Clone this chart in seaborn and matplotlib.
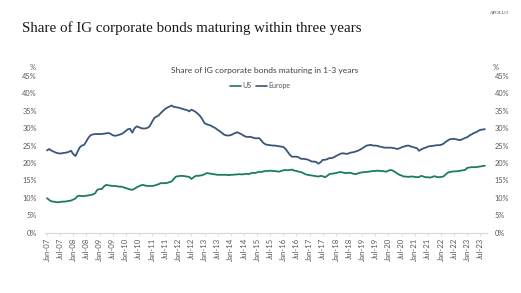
import numpy as np
import pandas as pd
import matplotlib
matplotlib.use("Agg")
import matplotlib.pyplot as plt
import matplotlib.dates as mdates
from matplotlib.lines import Line2D
import seaborn as sns

# ---- data (monthly, Jan-07 .. Sep-23) ----
start = "2007-01-01"
n_months = 201

europe = [
    23.6, 24.0, 23.6, 23.3, 23.0, 22.8, 22.7, 22.8, 22.9, 23.0, 23.2, 23.5,  # 2007
    22.6, 22.0, 23.2, 24.5, 25.0, 25.2, 26.2, 27.3, 28.0, 28.2, 28.3, 28.3,  # 2008
    28.3, 28.3, 28.4, 28.5, 28.6, 28.4, 28.0, 27.8, 27.9, 28.1, 28.3, 28.7,  # 2009
    29.2, 29.7, 29.8, 28.7, 29.9, 30.5, 30.3, 30.0, 29.9, 29.9, 30.1, 30.6,  # 2010
    31.8, 32.9, 33.3, 33.6, 34.3, 34.9, 35.5, 35.9, 36.2, 36.5, 36.1, 36.0,  # 2011
    35.9, 35.7, 35.5, 35.3, 35.2, 34.8, 35.3, 35.0, 34.6, 34.1, 33.4, 32.5,  # 2012
    31.4, 31.1, 30.9, 30.7, 30.3, 30.0, 29.5, 29.1, 28.6, 28.1, 27.9, 27.9,  # 2013
    28.0, 28.3, 28.6, 28.8, 28.5, 28.2, 27.8, 27.5, 27.5, 27.5, 27.3, 27.1,  # 2014
    27.1, 27.1, 26.4, 25.7, 25.3, 25.2, 25.1, 25.0, 25.0, 24.9, 24.8, 24.7,  # 2015
    24.6, 24.0, 23.2, 22.3, 21.8, 21.8, 21.8, 21.6, 21.2, 21.2, 21.1, 21.0,  # 2016
    20.7, 20.4, 20.4, 20.3, 19.8, 20.2, 20.9, 20.9, 21.1, 21.4, 21.4, 21.6,  # 2017
    22.0, 22.3, 22.6, 22.8, 22.7, 22.6, 22.8, 23.0, 23.1, 23.3, 23.5, 23.8,  # 2018
    24.2, 24.6, 25.0, 25.1, 25.2, 25.0, 25.0, 24.9, 24.7, 24.6, 24.4, 24.4,  # 2019
    24.4, 24.4, 24.3, 24.2, 24.0, 24.2, 24.5, 24.7, 24.9, 25.0, 24.8, 24.6,  # 2020
    24.4, 24.2, 23.5, 23.9, 24.2, 24.4, 24.7, 24.8, 24.9, 25.0, 25.1, 25.1,  # 2021
    25.2, 25.5, 26.0, 26.4, 26.8, 26.9, 26.9, 26.8, 26.6, 26.6, 26.9, 27.2,  # 2022
    27.4, 27.9, 28.2, 28.6, 28.8, 29.2, 29.5, 29.6, 29.7,                    # 2023
]

us = [
    9.9, 9.4, 9.0, 8.9, 8.8, 8.7, 8.8, 8.9, 8.9, 9.0, 9.1, 9.2,              # 2007
    9.5, 9.8, 10.5, 10.6, 10.5, 10.5, 10.6, 10.7, 10.8, 11.0, 11.3, 12.3,    # 2008
    12.5, 12.5, 13.2, 13.7, 13.6, 13.5, 13.4, 13.4, 13.3, 13.2, 13.2, 13.0,  # 2009
    12.8, 12.6, 12.4, 12.3, 12.6, 13.0, 13.3, 13.6, 13.7, 13.5, 13.4, 13.4,  # 2010
    13.4, 13.5, 13.7, 13.9, 14.2, 14.2, 14.2, 14.3, 14.5, 14.7, 15.5, 16.1,  # 2011
    16.2, 16.3, 16.3, 16.2, 16.1, 16.0, 15.4, 15.9, 16.3, 16.3, 16.4, 16.5,  # 2012
    16.8, 17.1, 17.0, 16.9, 16.8, 16.7, 16.6, 16.6, 16.6, 16.6, 16.6, 16.5,  # 2013
    16.6, 16.6, 16.7, 16.7, 16.8, 16.7, 16.8, 16.9, 16.8, 17.0, 17.2, 17.1,  # 2014
    17.3, 17.5, 17.4, 17.6, 17.7, 17.7, 17.8, 17.7, 17.7, 17.6, 17.5, 17.7,  # 2015
    17.9, 18.0, 17.9, 18.0, 18.1, 17.8, 17.7, 17.5, 17.4, 17.1, 16.8, 16.6,  # 2016
    16.5, 16.4, 16.3, 16.2, 16.1, 16.3, 16.2, 15.9, 16.3, 16.8, 16.9, 17.0,  # 2017
    17.1, 17.3, 17.4, 17.3, 17.1, 17.1, 17.2, 17.1, 16.9, 16.8, 17.0, 17.2,  # 2018
    17.3, 17.4, 17.4, 17.5, 17.6, 17.7, 17.7, 17.8, 17.7, 17.7, 17.6, 17.5,  # 2019
    17.8, 18.0, 17.8, 17.4, 17.0, 16.6, 16.4, 16.1, 16.1, 16.0, 16.1, 16.1,  # 2020
    16.0, 15.9, 16.0, 16.3, 16.1, 15.9, 15.9, 15.8, 16.0, 16.2, 16.0, 15.9,  # 2021
    16.0, 16.1, 16.6, 17.2, 17.4, 17.5, 17.6, 17.6, 17.7, 17.8, 17.9, 18.0,  # 2022
    18.6, 18.7, 18.8, 18.8, 18.8, 18.9, 19.0, 19.1, 19.2,                    # 2023
]

series_names = ["US", "Europe"]
series_colors = ["#1b7c5f", "#3b5678"]
y_ticks = [0, 5, 10, 15, 20, 25, 30, 35, 40, 45]

dates = pd.date_range(start, periods=n_months, freq="MS")
df = pd.concat([
    pd.DataFrame({"date": dates, "value": us, "series": "US"}),
    pd.DataFrame({"date": dates, "value": europe, "series": "Europe"}),
])

sns.set_theme(style="white")
plt.rcParams["font.family"] = ["Lato", "DejaVu Sans"]

fig = plt.figure(figsize=(5.21, 2.93), dpi=100)
ax = fig.add_axes([0.0864, 0.206, 0.8476, 0.535])

sns.lineplot(data=df, x="date", y="value", hue="series",
             palette=dict(zip(series_names, series_colors)),
             linewidth=1.3, ax=ax, legend=False)

ax.set_ylim(0, 45)
ax.set_xlim(dates[0] - pd.Timedelta(days=27), dates[-1] + pd.Timedelta(days=25))
ax.set_yticks(y_ticks)
ax.set_yticklabels([f"{t}%" for t in y_ticks])
ax.set_xlabel("")
ax.set_ylabel("")

ax.xaxis.set_major_locator(mdates.MonthLocator(bymonth=[1, 7]))
ax.xaxis.set_major_formatter(mdates.DateFormatter("%b-%y"))
ax.tick_params(axis="x", labelrotation=90, labelsize=5.6, colors="#595959",
               length=2.5, width=0.6, pad=1.5, bottom=True, color="#d9d9d9")
ax.tick_params(axis="y", labelsize=5.3, colors="#595959", length=0, pad=6)

for s in ["top", "right", "left"]:
    ax.spines[s].set_visible(False)
ax.spines["bottom"].set_color("#d9d9d9")
ax.spines["bottom"].set_linewidth(0.8)

ax2 = ax.twinx()
ax2.set_ylim(0, 45)
ax2.set_yticks(y_ticks)
ax2.set_yticklabels([f"{t}%" for t in y_ticks])
ax2.tick_params(axis="y", labelsize=5.3, colors="#595959", length=0, pad=6)
for s in ["top", "right", "left", "bottom"]:
    ax2.spines[s].set_visible(False)
ax2.grid(False)

# "%" unit labels
fig.text(0.056, 0.758, "%", fontsize=5.3, color="#595959", ha="left", va="bottom")
fig.text(0.945, 0.758, "%", fontsize=5.3, color="#595959", ha="left", va="bottom")

# chart inner title
fig.text(0.508, 0.76, "Share of IG corporate bonds maturing in 1-3 years",
         fontsize=6.1, color="#404040", ha="center", va="center")

handles = [Line2D([0], [0], color=c, lw=1.2) for c in series_colors]
fig.legend(handles, series_names, loc="center", bbox_to_anchor=(0.50, 0.707),
           ncol=2, frameon=False, fontsize=5, handlelength=1.6,
           handletextpad=0.2, columnspacing=0.6, labelcolor="#595959")

# main title & brand
fig.text(0.042, 0.905, "Share of IG corporate bonds maturing within three years",
         fontsize=10.8, family="Liberation Serif", color="#1a1a1a",
         ha="left", va="center")
fig.text(0.976, 0.955, "APOLLO", fontsize=3.5, family="Liberation Serif",
         color="#333333", ha="right", va="center")

fig.savefig("out.png", dpi=100)
